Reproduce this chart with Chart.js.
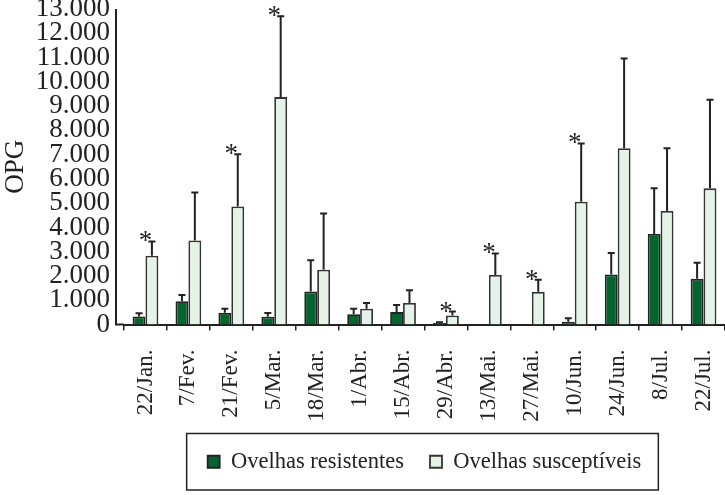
<!DOCTYPE html>
<html>
<head>
<meta charset="utf-8">
<script src="https://cdn.jsdelivr.net/npm/chart.js@4.4.1/dist/chart.umd.min.js"></script>
<style>
  html, body { margin: 0; padding: 0; background: #fff; }
</style>
</head>
<body>
<canvas id="chart" width="725" height="495"></canvas>
<script>
// ── Data ─────────────────────────────────────────────────────
const dates = ['22/Jan.', '7/Fev.', '21/Fev.', '5/Mar.', '18/Mar.', '1/Abr.', '15/Abr.',
               '29/Abr.', '13/Mai.', '27/Mai.', '10/Jun.', '24/Jun.', '8/Jul.', '22/Jul.'];
const resistentes    = [330, 960, 480, 320, 1360, 425, 510, 60, 10, 10, 110, 2060, 3730, 1880];
const resistentesErr = [130, 260, 170, 150, 1290, 225, 290, 30, 0, 0, 150, 890, 1880, 660];
const susceptiveis    = [2830, 3460, 4860, 9370, 2260, 650, 890, 370, 2040, 1345, 5060, 7260, 4680, 5610];
const susceptiveisErr = [590, 1980, 2160, 3330, 2310, 240, 520, 165, 890, 495, 2400, 3700, 2580, 3650];
// significant difference between groups (*)
const significant = [1, 0, 1, 1, 0, 0, 0, 1, 1, 1, 1, 0, 0, 0];

const yMax = 13000;
const yStep = 1000;

const FONT = '"Liberation Serif", "Times New Roman", serif';
const INK = '#222';

// ── Plugins ──────────────────────────────────────────────────
// y axis line sits a little left of where the date categories start
const axisFrame = {
    id: 'axisFrame',
    afterDraw(chart) {
        const { ctx, chartArea: { left, top, bottom } } = chart;
        ctx.save();
        ctx.strokeStyle = INK;
        ctx.lineWidth = 2;
        ctx.beginPath();
        ctx.moveTo(left - 8, top);
        ctx.lineTo(left - 8, bottom + 1);
        ctx.moveTo(left - 9, bottom);
        ctx.lineTo(left, bottom);
        ctx.stroke();
        ctx.restore();
    }
};

const errorBars = {
    id: 'errorBars',
    afterDatasetsDraw(chart) {
        const { ctx, scales: { x, y } } = chart;
        ctx.save();
        ctx.strokeStyle = INK;
        ctx.lineWidth = 2;
        chart.data.datasets.forEach((ds, di) => {
            const meta = chart.getDatasetMeta(di);
            meta.data.forEach((bar, i) => {
                const e = ds.errors[i];
                if (!e) return;
                const top = y.getPixelForValue(ds.data[i] + e);
                ctx.beginPath();
                ctx.moveTo(bar.x, bar.y);
                ctx.lineTo(bar.x, top);
                ctx.moveTo(bar.x - 3.5, top);
                ctx.lineTo(bar.x + 3.5, top);
                ctx.stroke();
            });
        });
        // asterisks above the susceptible bars
        ctx.fillStyle = INK;
        ctx.font = '27px ' + FONT;
        ctx.textAlign = 'center';
        ctx.textBaseline = 'alphabetic';
        significant.forEach((s, i) => {
            if (!s) return;
            const top = y.getPixelForValue(susceptiveis[i] + susceptiveisErr[i]);
            ctx.fillText('*', x.getPixelForValue(i), top + 8);
        });
        ctx.restore();
    }
};

const legendBox = {
    id: 'legendBox',
    afterDraw(chart) {
        const boxes = chart.legend.legendHitBoxes;
        if (!boxes || !boxes.length) return;
        const left = Math.min(...boxes.map(b => b.left));
        const right = Math.max(...boxes.map(b => b.left + b.width));
        const top = Math.min(...boxes.map(b => b.top));
        const bottom = Math.max(...boxes.map(b => b.top + b.height));
        const { ctx } = chart;
        ctx.save();
        ctx.strokeStyle = INK;
        ctx.lineWidth = 1.5;
        ctx.strokeRect(left - 21, top - 17, right - left + 38, bottom - top + 34);
        ctx.restore();
    }
};

// ── Chart ────────────────────────────────────────────────────
new Chart(document.getElementById('chart'), {
    type: 'bar',
    data: {
        labels: dates,
        datasets: [{
            label: 'Ovelhas resistentes',
            data: resistentes,
            errors: resistentesErr,
            backgroundColor: '#03642f',
            borderColor: INK,
            borderWidth: 1.8,
        }, {
            label: 'Ovelhas susceptíveis',
            data: susceptiveis,
            errors: susceptiveisErr,
            backgroundColor: '#e4f2e8',
            borderColor: '#333',
            borderWidth: 1.8,
        }],
    },
    options: {
        responsive: false,
        animation: false,
        layout: { padding: { top: 0, right: 0, bottom: 12, left: 0 } },
        datasets: { bar: { categoryPercentage: 0.6, barPercentage: 1.0 } },
        plugins: {
            legend: {
                position: 'bottom',
                fullSize: false,
                labels: {
                    color: INK,
                    font: { family: FONT, size: 22.5 },
                    boxWidth: 12,
                    boxHeight: 12,
                    padding: 26,
                },
            },
            tooltip: { enabled: false },
        },
        scales: {
            x: {
                grid: {
                    offset: true,
                    drawOnChartArea: false,
                    drawTicks: true,
                    tickLength: 6,
                    color: INK,
                    lineWidth: 1.5,
                },
                border: { color: INK, width: 2 },
                ticks: {
                    color: INK,
                    font: { family: FONT, size: 23 },
                    maxRotation: 90,
                    minRotation: 90,
                    padding: 19,
                    autoSkip: false,
                },
                afterFit(scale) {
                    scale.height = 100;
                    scale.paddingLeft = 0;
                    scale.paddingRight = 0;
                },
            },
            y: {
                min: 0,
                max: yMax,
                grid: { display: false, drawTicks: false },
                border: { display: false },
                ticks: {
                    stepSize: yStep,
                    autoSkip: false,
                    color: INK,
                    font: { family: FONT, size: 27 },
                    padding: 14,
                    callback: v => v.toLocaleString('de-DE'),
                },
                title: {
                    display: true,
                    text: 'OPG',
                    color: INK,
                    font: { family: FONT, size: 27 },
                    padding: { top: 0, bottom: 2 },
                },
                afterFit(scale) {
                    scale.width = 124;
                    scale.paddingTop = 9;
                },
            },
        },
    },
    plugins: [axisFrame, errorBars, legendBox],
});
</script>
</body>
</html>
